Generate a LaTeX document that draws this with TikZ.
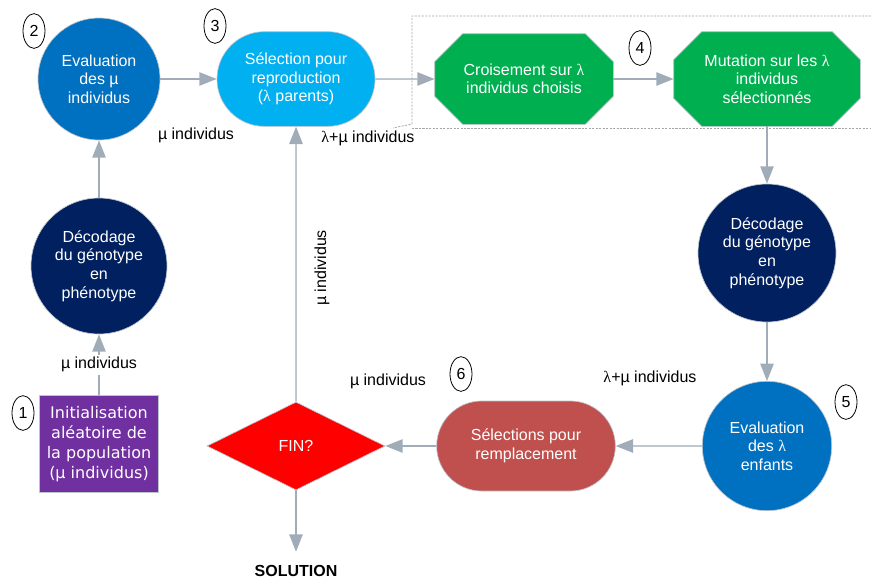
\documentclass[tikz,border=0pt]{standalone}
\usepackage{fontspec}
\setmainfont{Liberation Sans}
\newfontfamily\initfont{DejaVu Sans}
\newfontfamily\greekfont{Liberation Serif}
\newcommand{\lam}{{\greekfont λ}}
\newcommand{\mainsize}{\fontsize{12}{13.9}\selectfont}
\usetikzlibrary{arrows.meta,positioning,shapes.geometric,shapes.misc,backgrounds}
\definecolor{evalblue}{RGB}{0,112,192}
\definecolor{selblue}{RGB}{0,176,240}
\definecolor{decnavy}{RGB}{0,32,96}
\definecolor{opgreen}{RGB}{0,176,80}
\definecolor{remred}{RGB}{192,80,77}
\definecolor{initviolet}{RGB}{112,48,160}
\definecolor{arrowgray}{RGB}{160,172,184}
\definecolor{edgegray}{RGB}{190,196,204}
\tikzset{
  basenode/.style={
    draw=edgegray,
    line width=0.5pt,
    text=white,
    align=center,
    inner sep=0pt,
    font=\mainsize
  },
  circnode/.style={
    basenode,
    circle
  },
  selbox/.style={
    basenode,
    rounded rectangle,
    minimum width=118.5pt,
    minimum height=71pt
  },
  opbox/.style={
    basenode,
    draw=none,
    rectangle
  },
  octshape/.style={
    fill=opgreen,
    draw=edgegray,
    line width=0.5pt
  },
  initbox/.style={
    basenode,
    rectangle,
    fill=initviolet,
    minimum width=89pt,
    minimum height=73pt,
    font=\initfont\fontsize{12}{15}\selectfont
  },
  findiamond/.style={
    basenode,
    diamond,
    aspect=2,
    fill=red,
    minimum width=133.5pt,
    minimum height=66pt
  },
  numtag/.style={
    ellipse,
    draw=black,
    line width=0.6pt,
    minimum width=16.5pt,
    minimum height=26pt,
    inner sep=0pt,
    font=\mainsize
  },
  lbl/.style={
    font=\mainsize,
    inner sep=2pt
  },
  flowarrow/.style={
    -{Triangle[length=13pt,width=10pt]},
    draw=arrowgray,
    fill=arrowgray,
    line width=1.1pt
  },
  dashbox/.style={
    draw=gray!70,
    line width=0.6pt,
    dash pattern=on 1.6pt off 1pt
  }
}
% octagon behind an operator node
\newcommand{\octback}[1]{%
  \draw[octshape] ([xshift=21pt]#1.north west) -- ([xshift=-21pt]#1.north east)
    -- ([yshift=-21pt]#1.north east) -- ([yshift=21pt]#1.south east)
    -- ([xshift=-21pt]#1.south east) -- ([xshift=21pt]#1.south west)
    -- ([yshift=21pt]#1.south west) -- ([yshift=-21pt]#1.north west) -- cycle;}

\begin{document}
\begin{tikzpicture}[x=0.75pt,y=-0.75pt]
  \useasboundingbox (0,0) rectangle (871,578);
  % grouping of the genetic operators
  \draw[dashbox] (871,16) -- (412,16) -- (412,124) -- (393,128);
  \draw[dashbox] (412,128) -- (871,128);

  \node[circnode, fill=evalblue, minimum size=91.5pt] (evalmu) at (99,79) {Evaluation\\des µ\\individus};
  \node[selbox, fill=selblue] (sel) at (296,79) {Sélection pour\\reproduction\\(\lam{} parents)};
  \node[opbox, minimum width=133.5pt, minimum height=67.5pt] (crois) at (524,79) {Croisement sur \lam\\individus choisis};
  \node[opbox, minimum width=139.5pt, minimum height=70.5pt] (mut) at (767,79) {Mutation sur les \lam\\individus\\sélectionnés};
  \begin{scope}[on background layer]
    \octback{crois}
    \octback{mut}
  \end{scope}
  \node[circnode, fill=decnavy, minimum size=103.5pt] (decode2) at (767,253) {Décodage\\du génotype\\en\\phénotype};
  \node[circnode, fill=evalblue, minimum size=97pt] (evallam) at (767,446) {Evaluation\\des \lam\\enfants};
  \node[selbox, fill=remred, minimum width=134pt, minimum height=67.5pt] (selrep) at (526,446) {Sélections pour\\remplacement};
  \node[findiamond] (fin) at (296,446) {FIN?};
  \node[lbl, font=\mainsize\bfseries] (solution) at (296,571) {SOLUTION};
  \node[initbox] (init) at (99,444) {Initialisation\\aléatoire de\\la population\\(µ individus)};
  \node[circnode, fill=decnavy, minimum size=102pt] (decode1) at (99,266) {Décodage\\du génotype\\en\\phénotype};

  % step numbers
  \node[numtag] (n1) at (23,413) {1};
  \node[numtag] (n2) at (34,31) {2};
  \node[numtag] (n3) at (215,26) {3};
  \node[numtag] (n4) at (640,48) {4};
  \node[numtag] (n5) at (846,402) {5};
  \node[numtag] (n6) at (461,374) {6};

  % population sizes
  \node[lbl] (mutop) at (196,135) {µ individus};
  \node[lbl] (lammutop) at (368,138) {\lam+µ individus};
  \node[lbl] (lammubot) at (650,378) {\lam+µ individus};
  \node[lbl] (mubot) at (388,381) {µ individus};
  \node[lbl, rotate=90] (muloop) at (322,268) {µ individus};

  \draw[flowarrow] (init) -- node[lbl, fill=white] (muinit) {µ individus} (decode1);
  \draw[flowarrow] (decode1) -- (evalmu);
  \draw[flowarrow] (evalmu) -- (sel);
  \draw[flowarrow] (sel) -- (crois);
  \draw[flowarrow] (crois) -- (mut);
  \draw[flowarrow] (mut) -- (decode2);
  \draw[flowarrow] (decode2) -- (evallam);
  \draw[flowarrow] (evallam) -- (selrep);
  \draw[flowarrow] (selrep) -- (fin);
  \draw[flowarrow] (fin) -- (sel);
  \draw[flowarrow, shorten >=8pt] (fin) -- (solution);
\end{tikzpicture}
\end{document}
